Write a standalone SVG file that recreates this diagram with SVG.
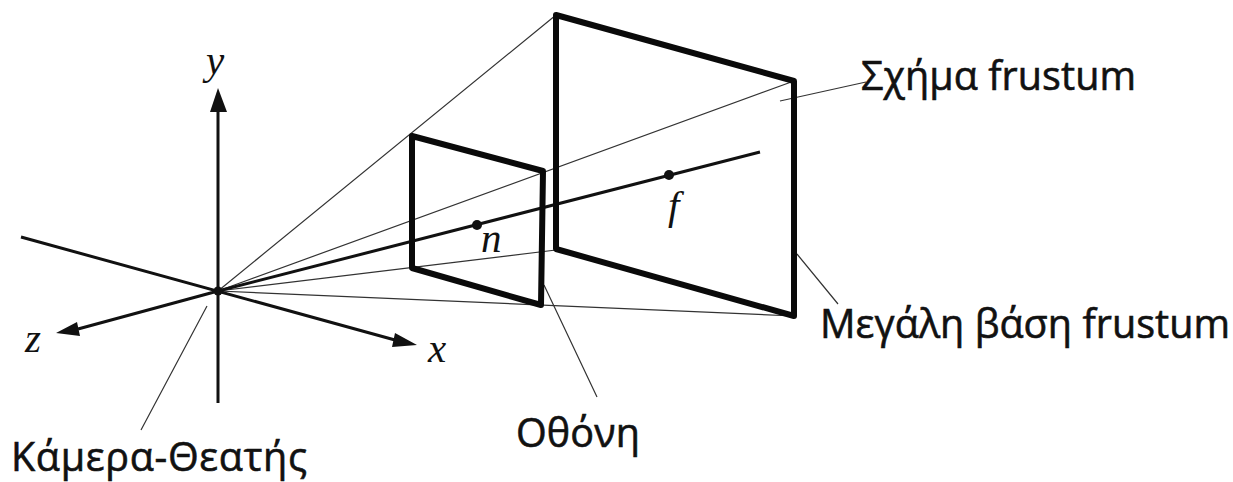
<svg xmlns="http://www.w3.org/2000/svg" width="1233" height="482" viewBox="0 0 1233 482">
<style>
.thin{stroke:#333;stroke-width:1.2;fill:none}
.axis{stroke:#111;stroke-width:3;fill:none}
.frame{stroke:#0a0a0a;stroke-width:6;fill:none;stroke-linejoin:round}
.lab{font-family:"Open Sans","Noto Sans",sans-serif;font-size:39.5px;fill:#111;stroke:#111;stroke-width:.6}
.var{font-family:"Liberation Serif",serif;font-style:italic;font-size:41px;fill:#111}
</style>
<rect width="1233" height="482" fill="#fff"/>
<g id="connectors">
<path class="thin" d="M218 291L556 15M218 291L794 81M218 291L556 250M218 291L794 316"/>
<path class="thin" d="M780 101L866 82M797 254L838 304M544 285L597 397M207 306L141 430"/>
<path class="axis" d="M218 403V108M21 237L395 340M218 291L78 329M218 291L760 152"/>
<path fill="#111" d="M218 88L227 112H210ZM417 345L392 347L395 333ZM56 333L77 322L80 336Z"/>
</g>
<g id="frustum-big"><path class="frame" d="M556 249V15L794 81V316Z"/></g>
<g id="screen"><path class="frame" d="M412 268V136L543 171L541 305Z"/></g>
<g id="origin"><circle cx="218" cy="291" r="4.5" fill="#111"/></g>
<g id="point-n"><circle cx="477" cy="225" r="5" fill="#111"/><text class="var" x="481" y="252">n</text></g>
<g id="point-f"><circle cx="669" cy="175" r="5" fill="#111"/><text class="var" x="668" y="219">f</text></g>
<g id="axis-labels">
<text class="var" x="206" y="74">y</text><text class="var" x="428" y="362">x</text><text class="var" x="25" y="352">z</text>
</g>
<g id="label-frustum"><text class="lab" x="861" y="90" textLength="275">Σχήμα frustum</text></g>
<g id="label-base"><text class="lab" x="820" y="338" textLength="410">Μεγάλη βάση frustum</text></g>
<g id="label-screen"><text class="lab" x="516" y="447" textLength="124">Οθόνη</text></g>
<g id="label-camera"><text class="lab" x="11" y="471" textLength="296">Κάμερα-Θεατής</text></g>
</svg>
